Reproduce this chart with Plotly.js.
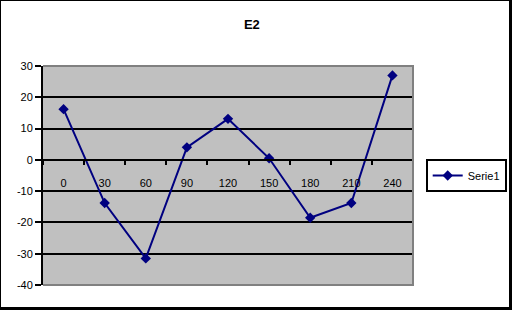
<!DOCTYPE html>
<html><head><meta charset="utf-8">
<script src="https://cdn.plot.ly/plotly-3.0.1.min.js"></script>
<style>
html,body{margin:0;padding:0;background:#fff;}
#wrap{position:relative;width:512px;height:310px;}
#frame{position:absolute;left:0;top:0;width:512px;height:310px;box-sizing:border-box;border-top:1px solid #000;border-left:1px solid #000;border-right:3px solid #000;border-bottom:3px solid #000;pointer-events:none;}
</style></head>
<body>
<div id="wrap"><div id="chart"></div><div id="frame"></div></div>
<script>
const categories = ['0','30','60','90','120','150','180','210','240'];
const serie1 = [16.2, -13.8, -31.5, 4.0, 13.1, 0.5, -18.5, -13.8, 27.0];
const yTicks = [-40,-30,-20,-10,0,10,20,30];
const yMin = -40, yMax = 30;

const font = 'Liberation Sans, Arial, sans-serif';
const trace = {
  x: categories, y: serie1, type: 'scatter', mode: 'lines+markers', name: 'Serie1',
  line: {color: '#000080', width: 2},
  marker: {symbol: 'diamond', size: 8, color: '#000080'}
};
const layout = {
  width: 512, height: 310,
  margin: {l: 43, r: 99, t: 66, b: 25, autoexpand: false},
  paper_bgcolor: '#ffffff', plot_bgcolor: '#c0c0c0',
  title: {text: '<b>E2</b>', x: 0.492, xanchor: 'center', y: 1 - 24/310, yanchor: 'middle', font: {family: font, size: 13, color: '#000'}},
  xaxis: {
    type: 'category', categoryorder: 'array', categoryarray: categories,
    range: [-0.5, 8.5], anchor: 'free', position: (0 - yMin)/(yMax - yMin),
    showline: true, linecolor: '#000', linewidth: 2,
    ticks: 'outside', tickson: 'boundaries', ticklen: 4, tickwidth: 2, tickcolor: '#000',
    showgrid: false, zeroline: false, ticklabelstandoff: 13,
    tickfont: {family: font, size: 11, color: '#000'}
  },
  yaxis: {
    range: [yMin, yMax], tickvals: yTicks, ticktext: yTicks.map(String),
    showline: true, linecolor: '#000', linewidth: 2,
    ticks: 'outside', ticklen: 6, tickwidth: 2, tickcolor: '#000',
    showgrid: true, gridcolor: '#000', gridwidth: 2, zeroline: false,
    tickfont: {family: font, size: 11, color: '#000'}
  },
  shapes: [{type: 'path', xref: 'paper', yref: 'paper', path: 'M 0 1 L 1 1 L 1 0 L 0 0', line: {color: '#808080', width: 2}, layer: 'above'}],
  showlegend: true,
  legend: {xref: 'container', yref: 'container', x: 425.7/512, xanchor: 'left', y: 1 - 175.5/310, yanchor: 'middle',
    bordercolor: '#000', borderwidth: 2, bgcolor: '#fff',
    font: {family: font, size: 11, color: '#000'}, itemwidth: 30}
};
Plotly.newPlot('chart', [trace], layout, {displayModeBar: false, staticPlot: true});
</script>
</body></html>
